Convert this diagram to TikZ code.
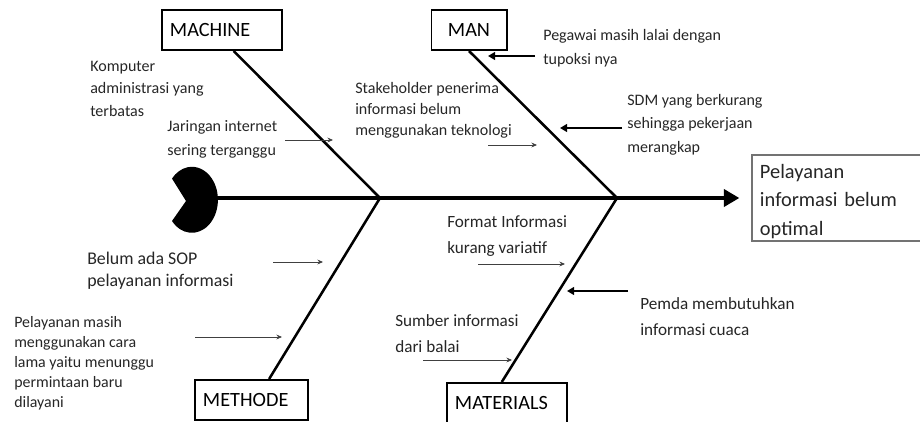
\documentclass[tikz,border=0pt]{standalone}
\usepackage{fontspec}
\setmainfont{Carlito}
\usetikzlibrary{arrows.meta}
\begin{document}
\begin{tikzpicture}[x=0.025cm,y=-0.025cm,
		catbox/.style={draw, line width=1.4pt, minimum height=1cm, inner xsep=0.2cm, align=left, font=\fontsize{14.4}{17}\selectfont},
		cause/.style={align=left, inner sep=0pt, anchor=base west, text=black!85, font=\fontsize{11.4}{16}\selectfont},
		bigcause/.style={cause, font=\fontsize{12.2}{17.8}\selectfont},
		bone/.style={line width=1.8pt},
		thinarrow/.style={-{Stealth[length=4pt,width=3.5pt]}, line width=0.6pt, black!75},
		thickarrow/.style={-{Triangle[length=5pt,width=5.5pt]}, line width=1.6pt}]
		\clip (0,0) rectangle (920,421);
		% kepala ikan
		\fill (186,201) -- (172,221) arc[start angle=140, end angle=-140, x radius=26, y radius=33] -- cycle;
		% kategori
		\node[catbox, text width=2.6cm] (machine) at (222,30) {MACHINE};
		\node[catbox, text width=1.475cm, align=center] (man) at (469,30) {MAN};
		\node[catbox, text width=2.425cm] (methode) at (251.5,400) {METHODE};
		\node[catbox, text width=2.6cm] (materials) at (507,403) {MATERIALS};
		\node[draw=black!55, line width=0.8pt, text width=5.8cm, inner xsep=0.2cm, inner ysep=0pt, minimum height=2.15cm, text height=16.4pt, text depth=44.8pt, align=left, text=black!85, font=\fontsize{14.5}{20.3}\selectfont] (effect) at (876,198) {Pelayanan\\informasi belum\\optimal};
		% tulang
		\coordinate (head) at (214,198);
		\coordinate (j1) at (380,198);
		\coordinate (j2) at (617,198);
		\draw[line width=3.5pt, -{Triangle[length=11pt,width=12pt]}, shorten >=0.3cm] (head) -- (effect);
		\draw[bone] (machine.-61) -- (j1);
		\draw[bone] (man.south) -- (j2);
		\draw[bone] (methode.50) -- (j1);
		\draw[bone] (materials.104) -- (j2);
		% penyebab (titik = garis dasar baris terakhir)
		\node[cause] (komputer) at (90,116) {Komputer\\administrasi yang\\terbatas};
		\node[cause, font=\fontsize{11.4}{16.4}\selectfont] (jaringan) at (167,155) {Jaringan internet\\sering terganggu};
		\node[cause, font=\fontsize{11.4}{14.6}\selectfont] (stakeholder) at (355,135) {Stakeholder penerima\\informasi belum\\menggunakan teknologi};
		\node[cause, font=\fontsize{11.4}{16.4}\selectfont] (pegawai) at (543,64) {Pegawai masih lalai dengan\\tupoksi nya};
		\node[cause, font=\fontsize{11.4}{16.7}\selectfont] (sdm) at (627,152) {SDM yang berkurang\\sehingga pekerjaan\\merangkap};
		\node[bigcause] (format) at (447,253) {Format Informasi\\kurang variatif};
		\node[bigcause] (pemda) at (640,335) {Pemda membutuhkan\\informasi cuaca};
		\node[bigcause] (sumber) at (395,352) {Sumber informasi\\dari balai};
		\node[cause, font=\fontsize{12.7}{15.6}\selectfont] (belum) at (87,286) {Belum ada SOP\\pelayanan informasi};
		\node[cause, font=\fontsize{11.3}{14.2}\selectfont] (cara) at (14,407) {Pelayanan masih\\menggunakan cara\\lama yaitu menunggu\\permintaan baru\\dilayani};
		% panah
		\coordinate (jar1) at (285,140);  \coordinate (jar2) at (333,140);
		\coordinate (sta1) at (488,145);  \coordinate (sta2) at (537,145);
		\coordinate (peg1) at (535,56);   \coordinate (peg2) at (488,56);
		\coordinate (sdm1) at (622,128);  \coordinate (sdm2) at (560,128);
		\coordinate (for1) at (478,264);  \coordinate (for2) at (565,264);
		\coordinate (pem1) at (628,291);  \coordinate (pem2) at (567,291);
		\coordinate (sum1) at (423,360);  \coordinate (sum2) at (512,360);
		\coordinate (bel1) at (273,262);  \coordinate (bel2) at (323,262);
		\coordinate (car1) at (195,337);  \coordinate (car2) at (282,337);
		\draw[thinarrow] (jar1) -- (jar2);
		\draw[thinarrow] (sta1) -- (sta2);
		\draw[thickarrow] (peg1) -- (peg2);
		\draw[thickarrow] (sdm1) -- (sdm2);
		\draw[thinarrow] (for1) -- (for2);
		\draw[thickarrow] (pem1) -- (pem2);
		\draw[thinarrow] (sum1) -- (sum2);
		\draw[thinarrow] (bel1) -- (bel2);
		\draw[thinarrow] (car1) -- (car2);
	\end{tikzpicture}
\end{document}
